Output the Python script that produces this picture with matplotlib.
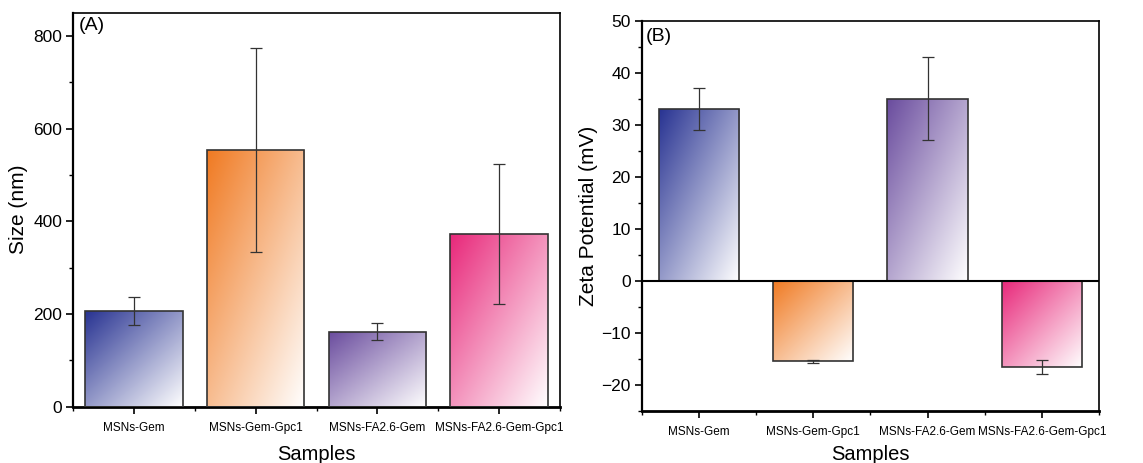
import numpy as np
import matplotlib
matplotlib.use("Agg")
import matplotlib.pyplot as plt
from matplotlib.ticker import MultipleLocator, FixedLocator
from matplotlib.colors import to_rgb

plt.rcParams['font.family'] = ['Liberation Sans', 'DejaVu Sans']

samples = ['MSNs-Gem', 'MSNs-Gem-Gpc1', 'MSNs-FA2.6-Gem', 'MSNs-FA2.6-Gem-Gpc1']
size_nm = [207, 553, 162, 372]
size_err = [30, 220, 19, 151]
zeta_mv = [33.0, -15.5, 35.0, -16.6]
zeta_err = [4.0, 0.3, 8.0, 1.3]
bar_colors = ['#283392', '#F07A22', '#6A4C9E', '#E8287A']

fig = plt.figure(figsize=(11.43, 4.63), dpi=100)
axA = fig.add_axes([0.0641, 0.1216, 0.4258, 0.851])
axB = fig.add_axes([0.5614, 0.1130, 0.4001, 0.8423])


def gradient_bars(ax, x, vals, errs, width):
    bars = ax.bar(x, vals, width=width, color='none', edgecolor='#333333',
                  linewidth=1.2, zorder=3)
    n = 120
    u = np.linspace(0, 1, n)
    U, V = np.meshgrid(u, u)
    T = (U + (1 - V)) / 2.0
    for b, c in zip(bars, bar_colors):
        rgb = np.array(to_rgb(c))
        img = rgb[None, None, :] * (1 - T[..., None]) + np.ones(3)[None, None, :] * T[..., None]
        x0 = b.get_x()
        x1 = x0 + b.get_width()
        y0 = min(b.get_y(), b.get_y() + b.get_height())
        y1 = max(b.get_y(), b.get_y() + b.get_height())
        im = ax.imshow(img, extent=(x0, x1, y0, y1), origin='lower',
                       aspect='auto', zorder=2, interpolation='bilinear')
        im.set_clip_path(b)
    ax.errorbar(x, vals, yerr=errs, fmt='none', ecolor='#333333',
                elinewidth=0.9, capsize=4, capthick=0.9, zorder=4)


pos = np.arange(1, 5)

# Panel A
gradient_bars(axA, pos, size_nm, size_err, 0.8)
axA.set_xlim(0.5, 4.5)
axA.set_ylim(0, 850)
axA.yaxis.set_major_locator(MultipleLocator(200))
axA.yaxis.set_minor_locator(MultipleLocator(100))
axA.set_ylabel('Size (nm)', fontsize=15)
axA.text(0.012, 0.99, '(A)', transform=axA.transAxes, fontsize=14,
         va='top', ha='left')

# Panel B
gradient_bars(axB, pos, zeta_mv, zeta_err, 0.7)
axB.axhline(0, color='black', linewidth=1.5, zorder=5)
axB.set_xlim(0.5, 4.5)
axB.set_ylim(-25, 50)
axB.yaxis.set_major_locator(MultipleLocator(10))
axB.yaxis.set_minor_locator(MultipleLocator(5))
axB.set_ylabel('Zeta Potential (mV)', fontsize=15, labelpad=2)
axB.text(0.008, 0.98, '(B)', transform=axB.transAxes, fontsize=14,
         va='top', ha='left')

for ax, lp in ((axA, 8), (axB, 5)):
    ax.set_xticks(pos)
    ax.set_xticklabels(samples, fontsize=8.5)
    ax.xaxis.set_minor_locator(FixedLocator([0.5, 1.5, 2.5, 3.5, 4.5]))
    ax.set_xlabel('Samples', fontsize=14.5, labelpad=lp)
    ax.tick_params(axis='both', which='major', direction='out', length=5,
                   width=1.2, colors='black')
    ax.tick_params(axis='both', which='minor', direction='out', length=3,
                   width=1.0)
    ax.tick_params(axis='y', labelsize=12.5, pad=3)
    ax.tick_params(axis='x', pad=6)
    ax.spines['bottom'].set_linewidth(2.0)
    ax.spines['left'].set_linewidth(1.6)
    ax.spines['top'].set_linewidth(1.2)
    ax.spines['right'].set_linewidth(1.2)

fig.savefig('out.png', dpi=100)
